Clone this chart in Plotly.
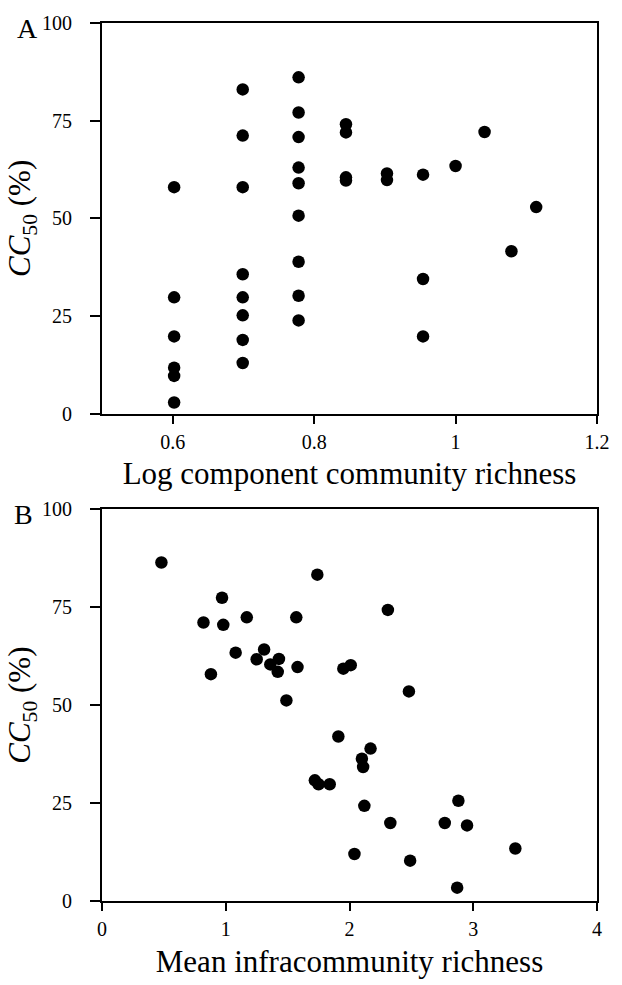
import plotly.graph_objects as go
from plotly.subplots import make_subplots

# Panel A: log component community richness vs CC50
a_x = [0.602, 0.602, 0.602, 0.602, 0.602, 0.602,
       0.699, 0.699, 0.699, 0.699, 0.699, 0.699, 0.699, 0.699,
       0.778, 0.778, 0.778, 0.778, 0.778, 0.778, 0.778, 0.778, 0.778,
       0.845, 0.845, 0.845, 0.845,
       0.903, 0.903,
       0.954, 0.954, 0.954,
       1.000, 1.041, 1.079, 1.114]
a_y = [58.0, 29.8, 19.8, 11.8, 9.7, 2.9,
       83.0, 71.2, 58.0, 35.7, 29.8, 25.2, 18.9, 13.0,
       86.1, 77.1, 70.8, 63.0, 59.0, 50.7, 38.9, 30.2, 23.9,
       74.1, 72.0, 60.5, 59.7,
       61.5, 59.8,
       61.2, 34.5, 19.8,
       63.4, 72.1, 41.6, 52.9]

# Panel B: mean infracommunity richness vs CC50
b_x = [0.48, 0.97, 0.82, 0.98, 1.17, 1.57, 0.88, 1.08, 1.25, 1.31,
       1.36, 1.43, 1.42, 1.49, 1.58, 1.74, 1.72, 2.31, 1.95, 2.01,
       2.48, 1.91, 2.17, 2.10, 2.11, 1.75, 1.84, 2.12, 2.88, 2.33,
       2.77, 2.95, 3.34, 2.04, 2.49, 2.87]
b_y = [86.4, 77.4, 71.1, 70.5, 72.4, 72.4, 57.9, 63.4, 61.7, 64.2,
       60.4, 61.8, 58.5, 51.2, 59.7, 83.3, 30.8, 74.3, 59.3, 60.2,
       53.5, 42.0, 38.9, 36.3, 34.2, 29.8, 29.8, 24.3, 25.6, 19.9,
       19.9, 19.3, 13.4, 12.0, 10.3, 3.4]

a_ticks = [0.6, 0.8, 1.0, 1.2]
a_ticktext = ["0.6", "0.8", "1", "1.2"]
b_ticks = [0, 1, 2, 3, 4]
b_ticktext = ["0", "1", "2", "3", "4"]
y_ticks = [0, 25, 50, 75, 100]
y_ticktext = ["0", "25", "50", "75", "100"]

FONT = "Liberation Serif"
tick_font = dict(family=FONT, size=20, color="black")
title_font = dict(family=FONT, size=31, color="black")
ytitle = "<i>CC</i><sub>50</sub> (%)"

fig = make_subplots(rows=2, cols=1, vertical_spacing=0.1)

marker = dict(color="black", size=12.5, line=dict(width=0))
fig.add_trace(go.Scatter(x=a_x, y=a_y, mode="markers", marker=marker,
                         showlegend=False), row=1, col=1)
fig.add_trace(go.Scatter(x=b_x, y=b_y, mode="markers", marker=marker,
                         showlegend=False), row=2, col=1)


def ax(**kw):
    d = dict(showline=True, linecolor="black", linewidth=2, mirror=True,
             ticks="outside", tickcolor="black", tickwidth=1.5,
             showgrid=False, zeroline=False, tickfont=tick_font)
    d.update(kw)
    return d


fig.update_layout(
    xaxis=ax(domain=[0, 1], range=[0.5, 1.2], tickvals=a_ticks, ticktext=a_ticktext,
             ticklen=8, ticklabelstandoff=1,
             title=dict(text="Log component community richness", font=title_font, standoff=11)),
    yaxis=ax(domain=[0.5549, 1], range=[0, 100], tickvals=y_ticks, ticktext=y_ticktext,
             ticklen=10, ticklabelstandoff=14,
             title=dict(text=ytitle, font=title_font, standoff=2)),
    xaxis2=ax(domain=[0, 1], range=[0, 4], tickvals=b_ticks, ticktext=b_ticktext,
              ticklen=8, ticklabelstandoff=1,
              title=dict(text="Mean infracommunity richness", font=title_font, standoff=11)),
    yaxis2=ax(domain=[0, 0.4462], range=[0, 100], tickvals=y_ticks, ticktext=y_ticktext,
              ticklen=10, ticklabelstandoff=14,
              title=dict(text=ytitle, font=title_font, standoff=2)),
    width=622, height=985,
    margin=dict(l=102, r=14, t=20, b=73),
    plot_bgcolor="white", paper_bgcolor="white",
    font=dict(family=FONT, color="black"),
    annotations=[
        dict(text="A", x=-0.176, y=1.0, xref="paper", yref="paper",
             xanchor="left", yanchor="top", showarrow=False, yshift=12,
             font=dict(family=FONT, size=28, color="black")),
        dict(text="B", x=-0.181, y=0.4462, xref="paper", yref="paper",
             xanchor="left", yanchor="top", showarrow=False, yshift=12,
             font=dict(family=FONT, size=28, color="black")),
    ],
)

fig.write_html("out.html",
               config={"displayModeBar": False},
               post_script="document.body.style.margin='0';"
                           "document.documentElement.style.overflow='hidden';")
